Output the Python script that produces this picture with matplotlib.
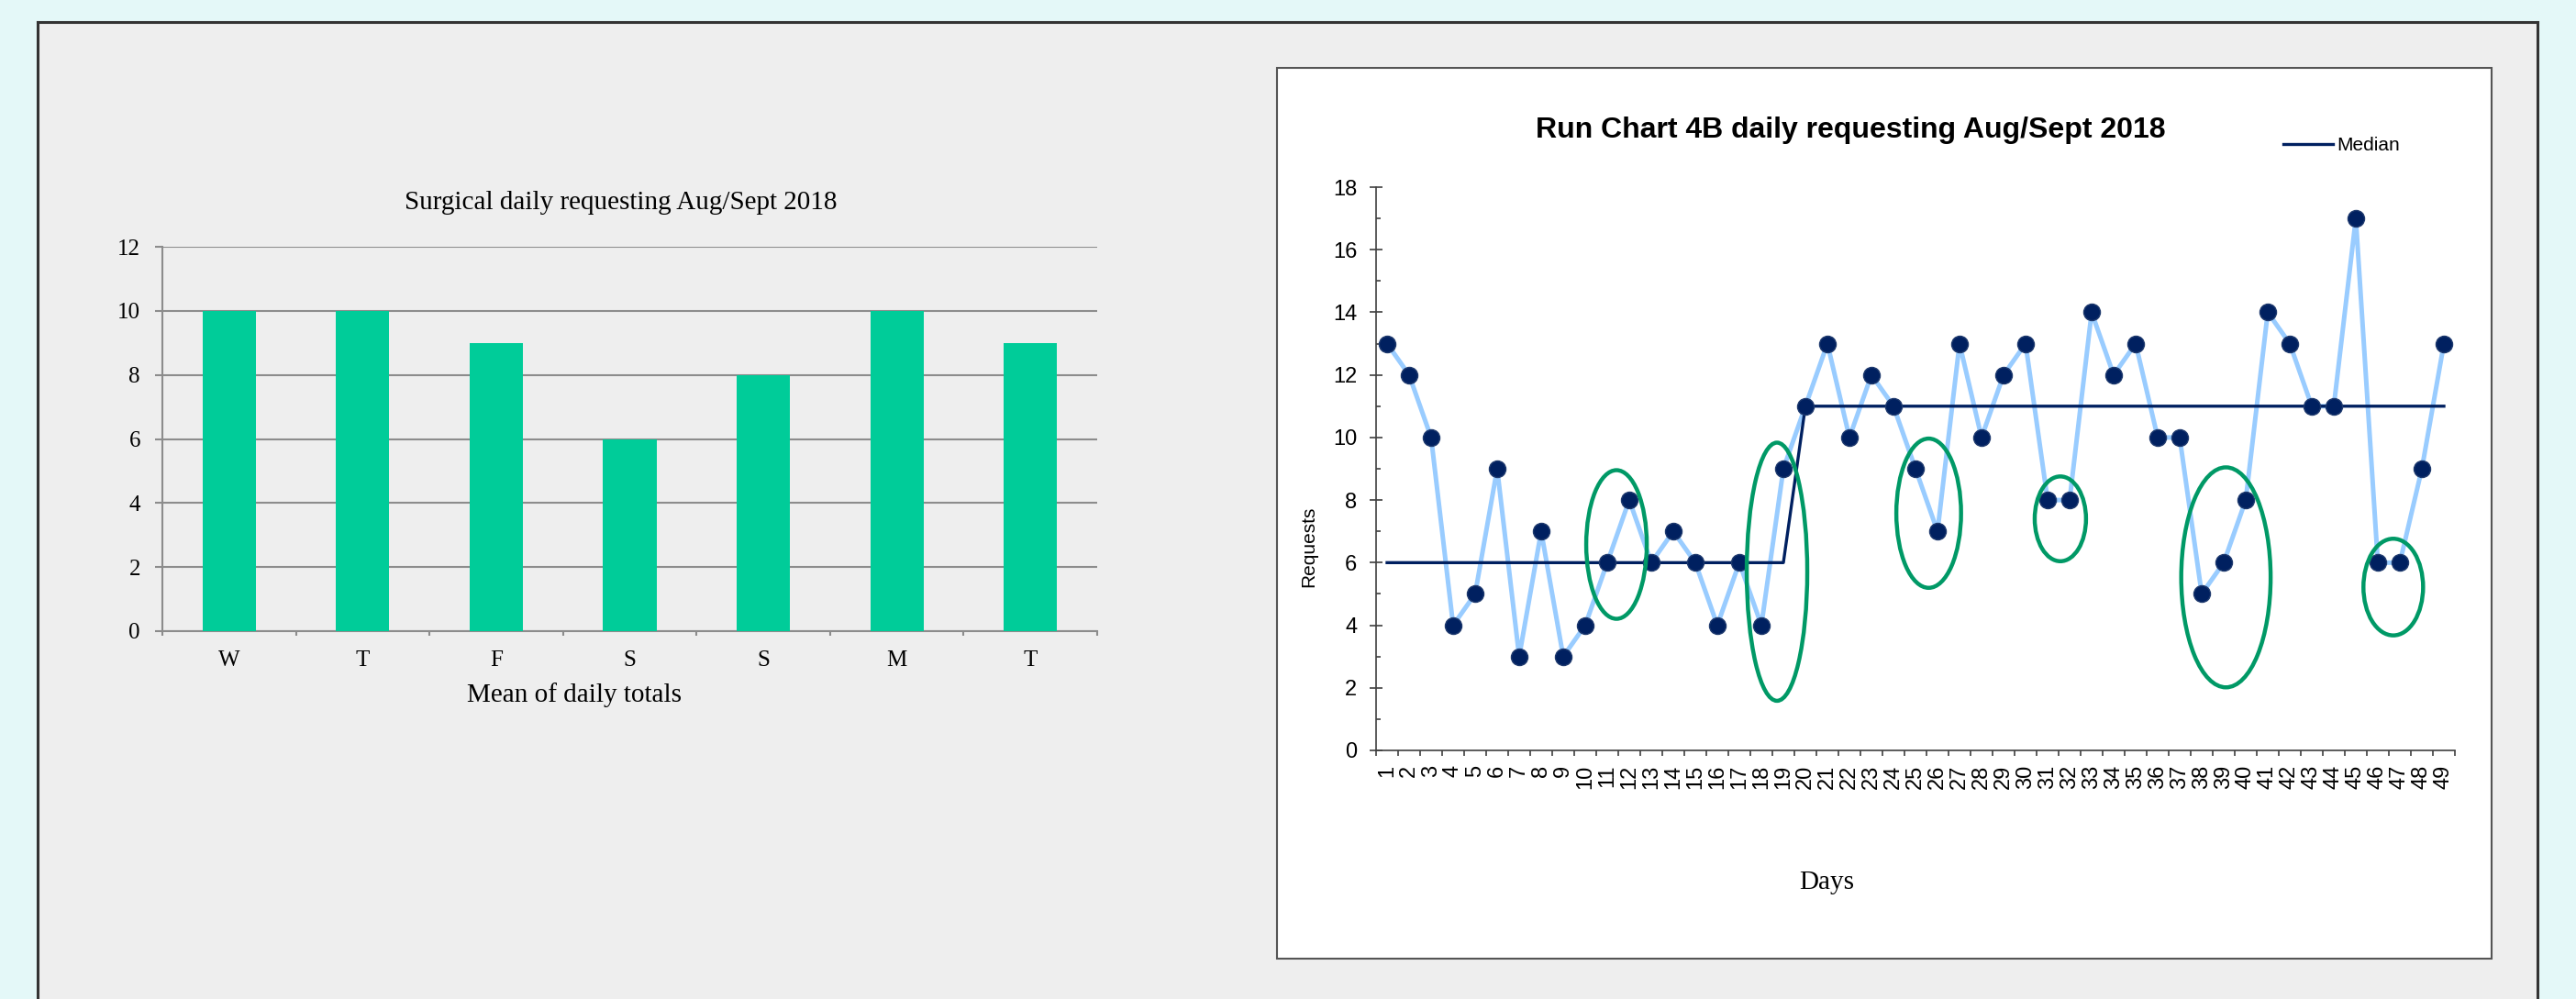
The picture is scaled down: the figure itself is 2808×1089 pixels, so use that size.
import matplotlib

matplotlib.use("Agg")
import matplotlib.pyplot as plt
from matplotlib import font_manager
from matplotlib.lines import Line2D
from matplotlib.patches import Ellipse, Rectangle
from matplotlib.ticker import FixedLocator, MultipleLocator

W, H = 2808, 1089

# left chart: mean of daily totals by weekday
weekday_labels = ["W", "T", "F", "S", "S", "M", "T"]
weekday_means = [10, 10, 9, 6, 8, 10, 9]

# right chart: daily requests and the median
days = list(range(1, 50))
requests = [13, 12, 10, 4, 5, 9, 3, 7, 3, 4, 6, 8, 6, 7, 6, 4, 6, 4, 9, 11,
            13, 10, 12, 11, 9, 7, 13, 10, 12, 13, 8, 8, 14, 12, 13, 10, 10, 5, 6, 8,
            14, 13, 11, 11, 17, 6, 6, 9, 13]
median = [6] * 19 + [11] * 30

# green rings drawn over the run chart: (day centre, value centre, width in days, height in values)
rings = [(11.42, 6.58, 2.75, 4.75), (18.71, 5.71, 2.75, 8.25), (25.6, 7.58, 2.94, 4.77),
         (31.58, 7.40, 2.33, 2.71), (39.1, 5.53, 4.06, 7.03), (46.7, 5.22, 2.71, 3.09)]

installed = {f.name for f in font_manager.fontManager.ttflist}
SERIF = ["Liberation Serif", "DejaVu Serif"]
SANS = ["Liberation Sans", "DejaVu Sans"]
NARROW = ["Liberation Sans Narrow"] + SANS if "Liberation Sans Narrow" in installed else SANS

BG = "#E4F8F8"
PANEL = "#EEEEEE"
BAR = "#00CC99"
GRID = "#8C8C8C"
NAVY = "#002060"
LIGHT = "#99CCFF"
RING = "#009966"


def fx(x):
    return x / W


def fy(y):
    return 1 - y / H


fig = plt.figure(figsize=(W / 100, H / 100), dpi=100)
fig.patch.set_facecolor(BG)

# grey panel with a border on left, top and right
fig.patches.append(Rectangle((fx(41), 0), fx(2766) - fx(41), fy(24), transform=fig.transFigure,
                             facecolor=PANEL, edgecolor="none", zorder=-3))
for xs, ys in [([41, 41], [24, H]), ([41, 2766], [24, 24]), ([2766, 2766], [24, H])]:
    fig.lines.append(Line2D([fx(v) for v in xs], [fy(v) for v in ys], transform=fig.transFigure,
                            color="#333333", linewidth=2.2, zorder=-2))

# white box behind the run chart
fig.patches.append(Rectangle((fx(1392), fy(1045)), fx(2716) - fx(1392), fy(74) - fy(1045),
                             transform=fig.transFigure, facecolor="white", edgecolor="#555555",
                             linewidth=1.5, zorder=-1))

# ---- left: bar chart ----
ax1 = fig.add_axes([fx(177), fy(688), fx(1196) - fx(177), fy(269) - fy(688)])
ax1.set_facecolor("none")
pos = list(range(len(weekday_labels)))
ax1.bar(pos, weekday_means, width=0.4, color=BAR, zorder=3)
ax1.set_xlim(-0.5, len(weekday_labels) - 0.5)
ax1.set_ylim(0, 12)
ax1.yaxis.set_major_locator(MultipleLocator(2))
ax1.grid(axis="y", color=GRID, linewidth=1.5, zorder=0)
ax1.set_axisbelow(True)
for side in ["top", "right"]:
    ax1.spines[side].set_visible(False)
for side in ["left", "bottom"]:
    ax1.spines[side].set_color(GRID)
    ax1.spines[side].set_linewidth(1.5)
ax1.set_xticks(pos)
ax1.set_xticklabels(weekday_labels)
ax1.xaxis.set_minor_locator(FixedLocator([p - 0.5 for p in range(len(weekday_labels) + 1)]))
ax1.tick_params(axis="both", which="major", labelsize=18, labelfontfamily=SERIF)
ax1.tick_params(axis="x", which="major", length=0, pad=15)
ax1.tick_params(axis="x", which="minor", length=3.6, width=1.5, color=GRID, direction="out")
ax1.tick_params(axis="y", length=5.8, width=1.5, color=GRID, pad=11.5)
fig.text(fx(677), fy(221), "Surgical daily requesting Aug/Sept 2018", family=SERIF, fontsize=21,
         ha="center", va="center")
fig.text(fx(626), fy(758), "Mean of daily totals", family=SERIF, fontsize=21, ha="center", va="center")

# ---- right: run chart ----
ax2 = fig.add_axes([fx(1500), fy(818), fx(2676) - fx(1500), fy(204) - fy(818)])
ax2.set_facecolor("none")
ax2.plot(days, requests, color=LIGHT, linewidth=3.6, zorder=2)
ax2.plot(days, median, color=NAVY, linewidth=2.4, zorder=3, label="Median")
ax2.plot(days, requests, linestyle="none", marker="o", markersize=13, color=NAVY,
         markeredgecolor="#1F3A6E", markeredgewidth=1, zorder=4)
for cx, cy, rw, rh in rings:
    ax2.add_patch(Ellipse((cx, cy), rw, rh, fill=False, edgecolor=RING, linewidth=3.2, zorder=5))
ax2.set_xlim(0.5, len(days) + 0.5)
ax2.set_ylim(0, 18)
for side in ["top", "right"]:
    ax2.spines[side].set_visible(False)
for side in ["left", "bottom"]:
    ax2.spines[side].set_color("#404040")
    ax2.spines[side].set_linewidth(1.2)
ax2.set_xticks(days)
ax2.set_xticklabels([str(d) for d in days])
ax2.xaxis.set_minor_locator(FixedLocator([d - 0.5 for d in range(1, len(days) + 2)]))
ax2.yaxis.set_major_locator(MultipleLocator(2))
ax2.yaxis.set_minor_locator(MultipleLocator(1))
ax2.tick_params(axis="both", which="major", labelsize=17, labelfontfamily=SANS)
ax2.tick_params(axis="x", which="major", length=0, pad=11.5, labelrotation=90)
ax2.tick_params(axis="x", which="minor", length=4.3, width=1.2, color="#404040", direction="out")
ax2.tick_params(axis="y", which="major", direction="inout", length=10, width=1.2, color="#404040", pad=10)
ax2.tick_params(axis="y", which="minor", direction="in", length=3.6, width=1.2, color="#404040")
ax2.legend(loc="center left", bbox_to_anchor=(fx(2489), fy(159)), bbox_transform=fig.transFigure,
           frameon=False, prop={"family": SANS, "size": 15}, handlelength=2.6, handletextpad=0.2,
           borderpad=0, borderaxespad=0)
fig.text(fx(2017), fy(142), "Run Chart 4B daily requesting Aug/Sept 2018", family=NARROW,
         fontsize=23 if NARROW is SANS else 26, fontweight="bold", ha="center", va="center")
fig.text(fx(1427), fy(596), "Requests", family=SANS, fontsize=15, rotation=90, ha="center", va="center")
fig.text(fx(1991), fy(962), "Days", family=SERIF, fontsize=21, ha="center", va="center")

fig.savefig("out.png", dpi=100, facecolor=fig.get_facecolor())
